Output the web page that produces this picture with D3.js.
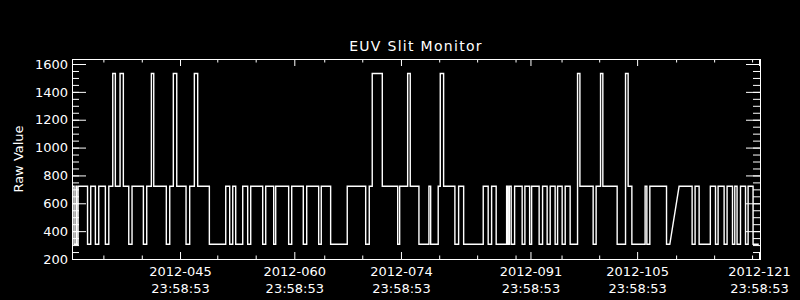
<!DOCTYPE html>
<html>
<head>
<meta charset="utf-8">
<script src="https://cdn.jsdelivr.net/npm/d3@7"></script>
<style>
  html, body { margin: 0; padding: 0; background: #000; }
  svg { display: block; }
  text { font-family: "DejaVu Sans", sans-serif; fill: #fff; }
</style>
</head>
<body>
<div id="chart"></div>
<script>
// change points: day of year 2012 (fractional) and raw value from that moment on
const changeDays = [
  30.88, 31.09, 31.35, 31.42, 31.62, 32.86, 33.28, 33.89, 34.33, 35.20,
  35.65, 36.17, 36.51, 37.13, 37.56, 38.27, 38.70, 40.19, 40.63, 41.24,
  41.55, 43.20, 43.65, 44.12, 44.57, 45.79, 46.27, 46.88, 47.32, 48.85,
  51.00, 51.52, 51.92, 52.31, 53.23, 53.88, 54.28, 55.85, 56.25, 57.30,
  57.56, 59.26, 59.66, 61.18, 61.63, 63.20, 63.54, 64.77, 66.95, 69.37,
  69.84, 70.23, 71.55, 73.57, 73.83, 74.88, 75.22, 76.36, 77.67, 77.90,
  78.89, 79.16, 79.60, 81.08, 81.57, 82.23, 84.80, 85.45, 85.90, 86.50,
  87.87, 88.04, 88.23, 88.47, 88.92, 89.91, 90.27, 90.89, 91.15, 92.14,
  92.59, 93.19, 93.59, 94.24, 94.56, 95.16, 95.56, 96.21, 97.18, 97.49,
  99.23, 99.62, 100.20, 100.50, 102.38, 103.48, 103.82, 104.31, 106.05, 106.28,
  106.67, 108.86, 109.29, 110.51, 112.22, 112.61, 113.14, 114.61, 115.29, 115.63,
  116.42, 116.81, 117.52, 117.82, 118.12, 118.57, 119.23, 119.57, 120.22, 120.97
];
const changeValues = [
  722, 306, 722, 306, 722, 306, 722, 306, 722, 306,
  722, 1532, 722, 1532, 722, 306, 722, 306, 722, 1532,
  722, 306, 722, 1532, 722, 306, 722, 1532, 722, 306,
  722, 306, 722, 306, 722, 306, 722, 306, 722, 306,
  722, 306, 722, 306, 722, 306, 722, 306, 722, 306,
  722, 1532, 722, 306, 722, 1532, 722, 306, 722, 306,
  722, 1532, 722, 306, 722, 306, 722, 306, 722, 306,
  722, 306, 722, 306, 722, 306, 722, 306, 722, 306,
  722, 306, 722, 306, 722, 306, 722, 306, 1532, 722,
  306, 722, 1532, 722, 306, 1532, 722, 306, 722, 306,
  722, 306, 306, 722, 306, 722, 306, 722, 306, 722,
  306, 722, 306, 722, 306, 722, 306, 722, 306, 306
];
// data gap: the sample at this day is joined to the previous one by a straight line
const gapJoinDays = [110.51];

const yMajor = [200, 400, 600, 800, 1000, 1200, 1400, 1600];
const yMinor = d3.range(200, 1650, 50);
const xMajor = [45, 60, 74, 91, 105, 121];
const xMajorDates = ["2012-045", "2012-060", "2012-074", "2012-091", "2012-105", "2012-121"];
const xMajorTimes = ["23:58:53", "23:58:53", "23:58:53", "23:58:53", "23:58:53", "23:58:53"];
const xMinor = [34.94, 39.98, 49.89, 54.93, 63.93, 68.92, 79.02, 84.0, 89.04, 95.08, 100.02, 110.12, 115.11, 120.09];

const width = 800, height = 300;
const plotL = 72, plotR = 760, plotT = 59, plotB = 259;

const x = d3.scaleLinear().domain([30.82, 121.13]).range([plotL, plotR]);
const y = d3.scaleLinear().domain([200, 1636]).range([plotB, plotT]);

const svg = d3.select("#chart").append("svg")
  .attr("width", width).attr("height", height)
  .style("background", "#000");

// build vertices: vertical steps at each change, straight join across the gap
const pts = [];
changeDays.forEach((t, i) => {
  if (i > 0 && !gapJoinDays.includes(t)) pts.push([t, changeValues[i - 1]]);
  pts.push([t, changeValues[i]]);
});

const line = d3.line().x(d => x(d[0])).y(d => y(d[1]));

svg.append("path")
  .datum(pts)
  .attr("d", line)
  .attr("fill", "none")
  .attr("stroke", "#fff")
  .attr("stroke-width", 1.4);

function styleAxis(g) {
  g.select(".domain").remove();
  g.selectAll("line").attr("stroke", "#fff").attr("stroke-width", 1);
  g.selectAll("text").attr("fill", "#fff").attr("font-size", 13)
    .attr("font-family", '"DejaVu Sans", sans-serif');
}

// left / right axes
svg.append("g").attr("transform", `translate(${plotL},0)`)
  .call(d3.axisLeft(y).tickValues(yMinor).tickSize(-7).tickFormat(""))
  .call(styleAxis);
svg.append("g").attr("transform", `translate(${plotL},0)`)
  .call(d3.axisLeft(y).tickValues(yMajor).tickSize(-14).tickPadding(4).tickFormat(d3.format("d")))
  .call(styleAxis);
svg.append("g").attr("transform", `translate(${plotR},0)`)
  .call(d3.axisRight(y).tickValues(yMinor).tickSize(-7).tickFormat(""))
  .call(styleAxis);
svg.append("g").attr("transform", `translate(${plotR},0)`)
  .call(d3.axisRight(y).tickValues(yMajor).tickSize(-14).tickFormat(""))
  .call(styleAxis);

// top / bottom axes
svg.append("g").attr("transform", `translate(0,${plotT})`)
  .call(d3.axisTop(x).tickValues(xMinor).tickSize(-3.5).tickFormat(""))
  .call(styleAxis);
svg.append("g").attr("transform", `translate(0,${plotT})`)
  .call(d3.axisTop(x).tickValues(xMajor).tickSize(-7).tickFormat(""))
  .call(styleAxis);
svg.append("g").attr("transform", `translate(0,${plotB})`)
  .call(d3.axisBottom(x).tickValues(xMinor).tickSize(-3.5).tickFormat(""))
  .call(styleAxis);
const xb = svg.append("g").attr("transform", `translate(0,${plotB})`)
  .call(d3.axisBottom(x).tickValues(xMajor).tickSize(-7).tickPadding(6).tickFormat(""))
  .call(styleAxis);

xb.selectAll(".tick").each(function(d, i) {
  const t = d3.select(this).append("text")
    .attr("text-anchor", "middle")
    .attr("font-size", 13);
  t.append("tspan").attr("x", 0).attr("y", 17).text(xMajorDates[i]);
  t.append("tspan").attr("x", 0).attr("y", 34).text(xMajorTimes[i]);
});

// frame
svg.append("rect")
  .attr("x", plotL + 0.5).attr("y", plotT + 0.5)
  .attr("width", plotR - plotL).attr("height", plotB - plotT)
  .attr("fill", "none").attr("stroke", "#fff").attr("stroke-width", 1);

svg.append("text")
  .attr("x", (plotL + plotR) / 2).attr("y", 51)
  .attr("text-anchor", "middle").attr("font-size", 14)
  .attr("letter-spacing", 1.3)
  .text("EUV Slit Monitor");

svg.append("text")
  .attr("transform", `translate(23,${(plotT + plotB) / 2}) rotate(-90)`)
  .attr("text-anchor", "middle").attr("font-size", 13)
  .text("Raw Value");
</script>
</body>
</html>
